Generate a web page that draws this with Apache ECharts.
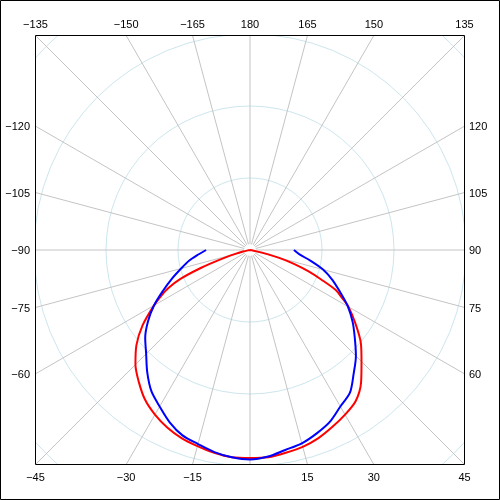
<!DOCTYPE html>
<html>
<head>
<meta charset="utf-8">
<title>polar pattern</title>
<script src="https://cdn.jsdelivr.net/npm/echarts@6/dist/echarts.min.js"></script>
<style>
  html, body { margin: 0; padding: 0; background: #fff; }
  #chart { width: 500px; height: 500px; }
</style>
</head>
<body>
<div id="chart"></div>
<script>
// angles in degrees, 0 = down, positive to the right
const redAngles = [-90, -85, -80, -77.5, -75, -72.5, -70, -67.5, -65, -62.5, -60, -55, -50, -45, -40, -35, -30, -25, -20, -15, -10, -5,
  0, 5, 10, 15, 20, 25, 30, 35, 40, 45, 50, 55, 60, 62.5, 65, 67.5, 70, 72.5, 75, 77.5, 80, 85, 90];
const redValues = [0, 0, 0.3, 1.0, 2.1, 4.2, 7.2, 10.4, 12.5, 14.0, 15.4, 18.2, 20.6, 22.5, 24.0, 25.4, 26.4, 27.2, 27.8, 28.2, 28.6, 28.9,
  28.9, 28.9, 28.6, 28.3, 27.8, 27.1, 26.4, 25.6, 24.0, 21.9, 20.1, 17.9, 15.8, 14.4, 13.1, 10.7, 8.6, 6.4, 4.2, 1.7, 0.4, 0, 0];

const blueAngles = [-90, -85, -80, -75, -70, -65, -60, -55, -50, -45, -40, -35, -30, -25, -20, -15, -10, -5,
  0, 5, 10, 15, 20, 25, 30, 35, 40, 45, 50, 55, 60, 65, 70, 75, 80, 85, 90];
const blueValues = [6.1, 7.2, 8.6, 9.9, 11.5, 13.3, 15.4, 17.3, 19.0, 20.4, 22.2, 23.9, 25.1, 26.4, 27.4, 27.9, 28.5, 28.9,
  29.1, 28.8, 28.2, 27.8, 27.1, 26.3, 25.1, 24.2, 22.4, 20.8, 19.0, 17.4, 15.7, 13.8, 12.2, 10.5, 8.5, 6.9, 6.1];

// labels written round the frame (0 is not shown)
const tickLabels = [180, -165, -150, -135, -120, -105, -90, -75, -60, -45, -30, -15,
  15, 30, 45, 60, 75, 90, 105, 120, 135, 150, 165];

const CX = 250, CY = 250;
const HALF = 214.5;          // half size of the inner frame
const FONT = '11px "Liberation Sans", Arial, sans-serif';
const SPOKE = '#c4c4c4';
const RING = '#cde6ee';

const chart = echarts.init(document.getElementById('chart'), null, { renderer: 'canvas' });

function pairs(angles, values) {
  return angles.map((a, i) => [values[i], a]);
}

chart.setOption({
  animation: false,
  backgroundColor: '#fff',
  polar: {
    center: [CX, CY],
    radius: 302.4
  },
  angleAxis: {
    type: 'value',
    min: -180,
    max: 180,
    interval: 15,
    startAngle: 90,
    clockwise: false,
    axisLine: { show: false },
    axisTick: { show: false },
    axisLabel: { show: false },
    splitLine: { show: true, lineStyle: { color: SPOKE, width: 1 } }
  },
  radiusAxis: {
    type: 'value',
    min: 0,
    max: 42,
    interval: 10,
    axisLine: { show: false },
    axisTick: { show: false },
    axisLabel: { show: false },
    splitArea: { show: false },
    splitLine: {
      show: true,
      lineStyle: { color: ['transparent', RING, RING, RING, RING, 'transparent'], width: 1 }
    }
  },
  series: [
    {
      name: 'red',
      type: 'line',
      coordinateSystem: 'polar',
      showSymbol: false,
      smooth: 0.3,
      lineStyle: { color: '#ff0000', width: 2 },
      data: pairs(redAngles, redValues)
    },
    {
      name: 'blue',
      type: 'line',
      coordinateSystem: 'polar',
      showSymbol: false,
      smooth: 0.3,
      lineStyle: { color: '#0000ff', width: 2 },
      data: pairs(blueAngles, blueValues)
    }
  ]
});

// white margins hide whatever the polar grid draws outside the square frame
const graphics = [
  { type: 'rect', shape: { x: 0, y: 0, width: 500, height: 35 } },
  { type: 'rect', shape: { x: 0, y: 465, width: 500, height: 35 } },
  { type: 'rect', shape: { x: 0, y: 0, width: 35, height: 500 } },
  { type: 'rect', shape: { x: 465, y: 0, width: 35, height: 500 } }
].map(g => Object.assign(g, { style: { fill: '#fff' }, z: 100, silent: true }));

graphics.push({
  type: 'rect', z: 101, silent: true,
  shape: { x: 35.5, y: 35.5, width: 429, height: 429 },
  style: { fill: 'none', stroke: '#000', lineWidth: 1 }
});
graphics.push({
  type: 'rect', z: 101, silent: true,
  shape: { x: 0.5, y: 0.5, width: 499, height: 499 },
  style: { fill: 'none', stroke: '#000', lineWidth: 1 }
});

// spokes stop a little short of the centre
const origin = chart.convertToPixel({ seriesIndex: 0 }, [0, 0]);
graphics.push({
  type: 'circle', z: 1, silent: true,
  shape: { cx: origin[0], cy: origin[1], r: 6 },
  style: { fill: '#fff' }
});

// put each angle label where its spoke meets the frame
tickLabels.forEach(a => {
  const p = chart.convertToPixel({ seriesIndex: 0 }, [10, a]);
  const dx = p[0] - origin[0], dy = p[1] - origin[1];
  const t = HALF / Math.max(Math.abs(dx), Math.abs(dy));
  let x = origin[0] + dx * t, y = origin[1] + dy * t;
  let align = 'center';
  if (Math.abs(dy) >= Math.abs(dx) - 0.01) {
    y = dy < 0 ? 25 : 478;
  } else if (dx < 0) {
    x = 30; y += 1; align = 'right';
  } else {
    x = 469; y += 1; align = 'left';
  }
  graphics.push({
    type: 'text', z: 102, silent: true, x: x, y: y,
    style: {
      text: String(a).replace('-', '\u2212'),
      font: FONT,
      fill: '#000',
      align: align, textAlign: align,
      verticalAlign: 'middle', textVerticalAlign: 'middle'
    }
  });
});

chart.setOption({ graphic: { elements: graphics } });
</script>
</body>
</html>
